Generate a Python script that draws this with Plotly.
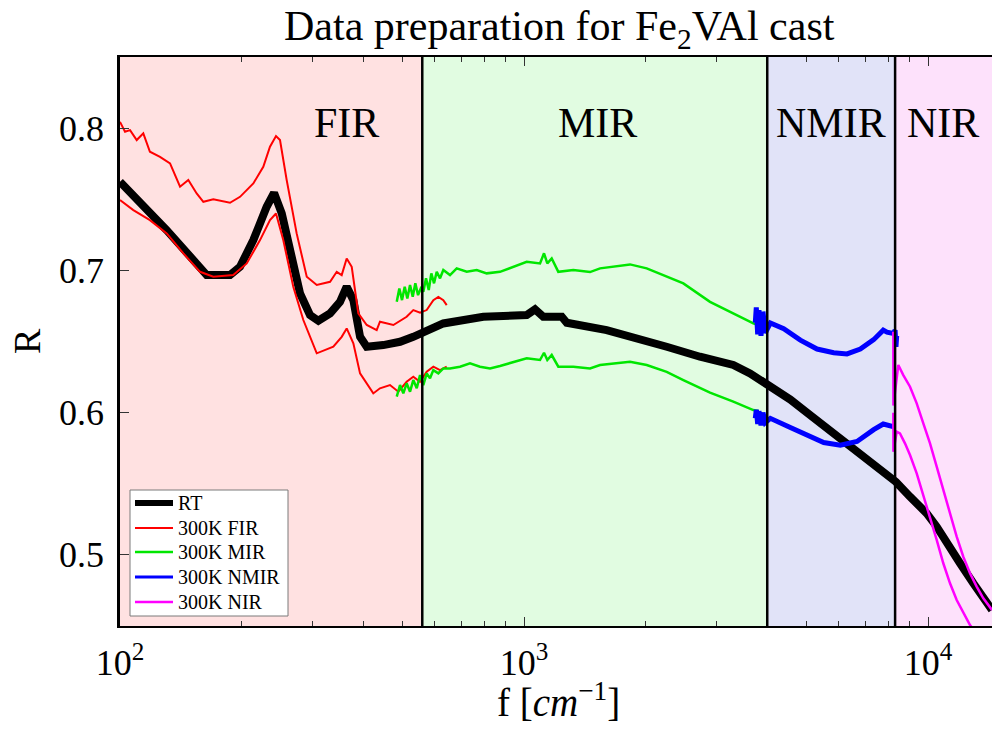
import plotly.graph_objects as go

# ---------------- data ----------------
rt_f = [100, 130.5, 163.9, 187.2, 198.2, 213.8, 230.7, 240.6, 251.4, 263.6, 279.0, 295.3, 309.7,
        331.1, 350.4, 364.0, 378.1, 392.8, 408.0, 448.4, 493.3, 532.1, 560.2, 631.4, 793.0,
        1015.5, 1064.7, 1116, 1240, 1276, 1602, 1864, 2255, 2727, 3297, 3626, 3988, 4563, 5017,
        5519, 6066, 6672, 7337, 8332, 9025, 9926, 10508, 11123, 12003, 12946, 13708, 14400]
rt_R = [0.7623, 0.7283, 0.6967, 0.6967, 0.7025, 0.7213, 0.7447, 0.7545, 0.7401, 0.7119, 0.6838,
        0.6686, 0.6646, 0.6698, 0.6779, 0.6885, 0.6791, 0.6533, 0.6463, 0.6475, 0.6498, 0.6533,
        0.6557, 0.6627, 0.6674, 0.6686, 0.6726, 0.6674, 0.6674, 0.6632, 0.6580, 0.6533, 0.6463,
        0.6393, 0.6335, 0.6276, 0.6206, 0.6092, 0.6000, 0.5908, 0.5829, 0.5737, 0.5645, 0.5513,
        0.5409, 0.5292, 0.5198, 0.5082, 0.4941, 0.4800, 0.4695, 0.4613]

fir_up_f = [100, 102.9, 105.9, 110.0, 114.2, 118.6, 125.6, 133.0, 140.8, 147.6, 154.8, 160.8, 170.2,
            187.2, 198.2, 213.8, 226.3, 235.1, 243.3, 248.9, 258.6, 273.7, 289.9, 306.9, 331.1,
            343.9, 353.8, 364.0, 374.6, 388.9, 408.0, 431.9, 440.0, 474.9, 512.3, 532.1, 552.9,
            574.3, 596.5, 613.7, 631.4, 643.7]
fir_up_R = [0.8044, 0.7974, 0.7986, 0.7916, 0.7963, 0.7834, 0.7798, 0.7752, 0.7588, 0.7635, 0.7541,
            0.7482, 0.7499, 0.7475, 0.7517, 0.7611, 0.7728, 0.7869, 0.7944, 0.7916, 0.7635, 0.7260,
            0.6955, 0.6897, 0.6920, 0.6990, 0.6967, 0.7084, 0.7025, 0.6698, 0.6616, 0.6580, 0.6639,
            0.6616, 0.6674, 0.6721, 0.6702, 0.6721, 0.6791, 0.6814, 0.6791, 0.6756]
fir_lo_f = [100, 107.9, 118.6, 130.5, 143.5, 157.8, 170.2, 190.7, 205.9, 222.1, 235.1, 243.3, 253.6,
            268.5, 284.3, 306.9, 337.3, 353.8, 364.0, 378.1, 392.8, 423.6, 440.0, 465.9, 488.6,
            512.3, 532.1, 552.9, 574.3, 596.5, 619.6, 643.7]
fir_lo_R = [0.7494, 0.7424, 0.7353, 0.7260, 0.7119, 0.6990, 0.6955, 0.6967, 0.7049, 0.7213, 0.7353,
            0.7400, 0.7213, 0.6885, 0.6651, 0.6417, 0.6463, 0.6533, 0.6592, 0.6487, 0.6276, 0.6135,
            0.6171, 0.6194, 0.6147, 0.6217, 0.6252, 0.6217, 0.6287, 0.6323, 0.6299, 0.6323]

mir_up_f = [484.2, 491.4, 499.0, 506.7, 514.3, 522.3, 530.4, 538.3, 546.7, 555.2, 563.4, 572.1,
            581.0, 589.7, 598.8, 608.1, 619.6, 631.4, 655.9, 681.4, 721.4, 763.7, 808.5, 872.1,
            1015.5, 1095.6, 1120.8, 1142.1, 1171.1, 1216.0, 1324.5, 1456.9, 1542.4, 1829.6,
            2012.5, 2255, 2479.8, 2887, 3297, 3695, 3802]
mir_up_R = [0.6779, 0.6873, 0.6791, 0.6885, 0.6803, 0.6897, 0.6815, 0.6909, 0.6826, 0.6873, 0.6850,
            0.6944, 0.6862, 0.6979, 0.6909, 0.6990, 0.6944, 0.7002, 0.6967, 0.7014, 0.6990, 0.7002,
            0.6979, 0.6990, 0.7060, 0.7049, 0.7120, 0.7049, 0.7084, 0.6990, 0.7002, 0.6988, 0.7014,
            0.7042, 0.7014, 0.6955, 0.6908, 0.6779, 0.6698, 0.6627, 0.6616]
mir_lo_f = [484.2, 493.3, 502.7, 512.3, 522.3, 532.1, 542.7, 552.9, 563.4, 574.3, 585.3, 596.5,
            613.7, 631.4, 655.9, 694.3, 735.1, 778.2, 823.9, 872.1, 1015.5, 1095.6, 1120.8,
            1142.1, 1171.1, 1216.0, 1324.5, 1456.9, 1542.4, 1829.6, 2012.5, 2255, 2479.8, 2887,
            3297, 3695, 3802]
mir_lo_R = [0.6112, 0.6194, 0.6136, 0.6206, 0.6147, 0.6229, 0.6171, 0.6264, 0.6194, 0.6276, 0.6241,
            0.6299, 0.6276, 0.6311, 0.6311, 0.6323, 0.6346, 0.6323, 0.6311, 0.6328, 0.6382, 0.6370,
            0.6421, 0.6370, 0.6405, 0.6323, 0.6323, 0.6311, 0.6335, 0.6358, 0.6335, 0.6287, 0.6229,
            0.6140, 0.6077, 0.6018, 0.6011]

nmir_up_f = [3737, 3758, 3788, 3816, 3860, 3904, 3956, 4071, 4394, 4831, 5313, 5842, 6302, 6799,
             7337, 7749, 7914, 8206, 8290, 8330, 8366]
nmir_up_R = [0.6632, 0.674, 0.655, 0.672, 0.654, 0.671, 0.656, 0.663, 0.659, 0.651, 0.6447, 0.6421,
             0.6413, 0.6447, 0.6513, 0.658, 0.6566, 0.6557, 0.6580, 0.6463, 0.6540]
nmir_lo_f = [3737, 3758, 3788, 3816, 3860, 3904, 3956, 4071, 4563, 5017, 5519, 6066, 6672, 7337,
             7749, 8206, 8300]
nmir_lo_R = [0.596, 0.602, 0.592, 0.601, 0.591, 0.600, 0.593, 0.596, 0.5895, 0.5842, 0.579, 0.5771,
             0.5797, 0.5880, 0.5920, 0.5901, 0.5905]

nir_up_f = [8206, 8210, 8443, 8686, 9025, 9376, 9736, 10115, 10508, 10911, 11336, 11776, 12228,
            12704, 13198, 13708, 14400]
nir_up_R = [0.6568, 0.6050, 0.6335, 0.6264, 0.6182, 0.6065, 0.5925, 0.5784, 0.5620, 0.5456, 0.5292,
            0.5128, 0.4987, 0.4871, 0.4777, 0.4695, 0.4613]
nir_lo_f = [8206, 8210, 8366, 8523, 8770, 9025, 9376, 9736, 10115, 10508, 10911, 11336, 11776,
            12228, 12704, 13071]
nir_lo_R = [0.6000, 0.5725, 0.5866, 0.5854, 0.5784, 0.5702, 0.5573, 0.5421, 0.5268, 0.5105, 0.4941,
            0.4800, 0.4683, 0.4590, 0.4507, 0.4460]

region_edges = [100, 560, 4000, 8290, 14400]
region_names = ["FIR", "MIR", "NMIR", "NIR"]
region_fill = ["#ffe1e1", "#e1fce1", "#e1e3f8", "#fde1fb"]
region_label_px = [346, 597, 831, 943]

y_ticks = [0.5, 0.6, 0.7, 0.8]
x_major = [100, 1000, 10000]
x_major_text = ["10<sup>2</sup>", "10<sup>3</sup>", "10<sup>4</sup>"]
x_minor = [m * d for d in (100, 1000) for m in range(2, 10)]

FONT = "Liberation Serif"

def pair(a_f, a_R, b_f, b_R):
    return a_f + [None] + b_f, a_R + [None] + b_R

series = [
    ("RT", rt_f, rt_R, None, None, "black", 8),
    ("300K FIR", fir_up_f, fir_up_R, fir_lo_f, fir_lo_R, "#ff0000", 2),
    ("300K MIR", mir_up_f, mir_up_R, mir_lo_f, mir_lo_R, "#00e600", 2.5),
    ("300K NMIR", nmir_up_f, nmir_up_R, nmir_lo_f, nmir_lo_R, "#0000ff", 5),
    ("300K NIR", nir_up_f, nir_up_R, nir_lo_f, nir_lo_R, "#ff00ff", 2.5),
]

fig = go.Figure()
for name, up_f, up_R, lo_f, lo_R, col, w in series:
    if lo_f is None:
        xs, ys = up_f, up_R
    else:
        xs, ys = pair(up_f, up_R, lo_f, lo_R)
    fig.add_trace(go.Scatter(x=xs, y=ys, mode="lines", name=name, connectgaps=False,
                             showlegend=False, line=dict(color=col, width=w)))

W, H = 992, 733
L, R_, T, B = 120, 0, 57, 107
pw, ph = W - L - R_, H - T - B

def px2paper(px, py):
    return (px - L) / pw, (H - B - py) / ph

shapes = []
for i in range(4):
    shapes.append(dict(type="rect", xref="x", yref="paper", x0=region_edges[i], x1=region_edges[i + 1],
                       y0=0, y1=1, fillcolor=region_fill[i], line=dict(width=0), layer="below"))
for e in region_edges[1:4]:
    shapes.append(dict(type="line", xref="x", yref="paper", x0=e, x1=e, y0=0, y1=1,
                       line=dict(color="black", width=2.5), layer="above"))

annotations = []
for name, px in zip(region_names, region_label_px):
    ax_, ay_ = px2paper(px, 123)
    annotations.append(dict(text=name, x=ax_, y=ay_, xref="paper", yref="paper", showarrow=False,
                            xanchor="center", yanchor="middle", font=dict(family=FONT, size=42, color="black")))
tx, ty = px2paper(559, 1)
annotations.append(dict(text="Data preparation for Fe<sub>2</sub>VAl cast", x=tx, y=ty, xref="paper",
                        yref="paper", showarrow=False, xanchor="center", yanchor="top",
                        font=dict(family=FONT, size=42, color="black")))
rx, ry = px2paper(27, 341)
annotations.append(dict(text="R", x=rx, y=ry, xref="paper", yref="paper", showarrow=False, textangle=-90,
                        xanchor="center", yanchor="middle", font=dict(family=FONT, size=38, color="black")))
fx, fy = px2paper(558, 700)
annotations.append(dict(text="f [<i>cm</i><sup>\u22121</sup>]", x=fx, y=fy, xref="paper", yref="paper",
                        showarrow=False, xanchor="center", yanchor="middle",
                        font=dict(family=FONT, size=39, color="black")))

# legend box drawn in paper coordinates
lx0, ly0 = px2paper(130, 490)
lx1, ly1 = px2paper(288, 616)
shapes.append(dict(type="rect", xref="paper", yref="paper", x0=lx0, x1=lx1, y0=ly1, y1=ly0,
                   fillcolor="white", line=dict(color="#7a7a7a", width=1), layer="above"))
row_py = [503, 528, 552, 577, 602]
for (name, _, _, _, _, col, w), py in zip(series, row_py):
    sx0, sy = px2paper(135, py)
    sx1, _ = px2paper(173, py)
    shapes.append(dict(type="line", xref="paper", yref="paper", x0=sx0, x1=sx1, y0=sy, y1=sy,
                       line=dict(color=col, width=6 if name == "RT" else min(w, 3)), layer="above"))
    tx_, _ = px2paper(176, py)
    annotations.append(dict(text=name, x=tx_, y=sy, xref="paper", yref="paper", showarrow=False,
                            xanchor="left", yanchor="middle",
                            font=dict(family=FONT, size=20, color="black")))

fig.update_layout(
    width=W, height=H, margin=dict(l=L, r=R_, t=T, b=B, pad=0),
    paper_bgcolor="white", plot_bgcolor="white",
    shapes=shapes, annotations=annotations,
    showlegend=False,
    xaxis=dict(type="log", range=[2, 4.1584], showgrid=False, zeroline=False,
               showline=True, linecolor="black", linewidth=2, mirror="ticks",
               ticks="inside", ticklen=9, tickwidth=1, tickcolor="#333333",
               tickmode="array", tickvals=x_major, ticktext=x_major_text,
               minor=dict(tickmode="array", tickvals=x_minor, ticks="inside", ticklen=5,
                          tickcolor="#333333", showgrid=False),
               tickfont=dict(family=FONT, size=36, color="black"), ticklabelstandoff=4),
    yaxis=dict(range=[0.45, 0.85], showgrid=False, zeroline=False,
               showline=True, linecolor="black", linewidth=2.5, mirror=False,
               ticks="inside", ticklen=9, tickwidth=1, tickcolor="#333333",
               tickmode="array", tickvals=y_ticks, ticktext=[f"{v:.1f}" for v in y_ticks],
               tickfont=dict(family=FONT, size=36, color="black"), ticklabelstandoff=6),
    yaxis2=dict(range=[0.45, 0.85], overlaying="y", side="right", showgrid=False, zeroline=False,
                showline=False, ticks="inside", ticklen=9, tickwidth=1, tickcolor="#333333",
                tickmode="array", tickvals=y_ticks, showticklabels=False),
)

fig.write_html("out.html")
